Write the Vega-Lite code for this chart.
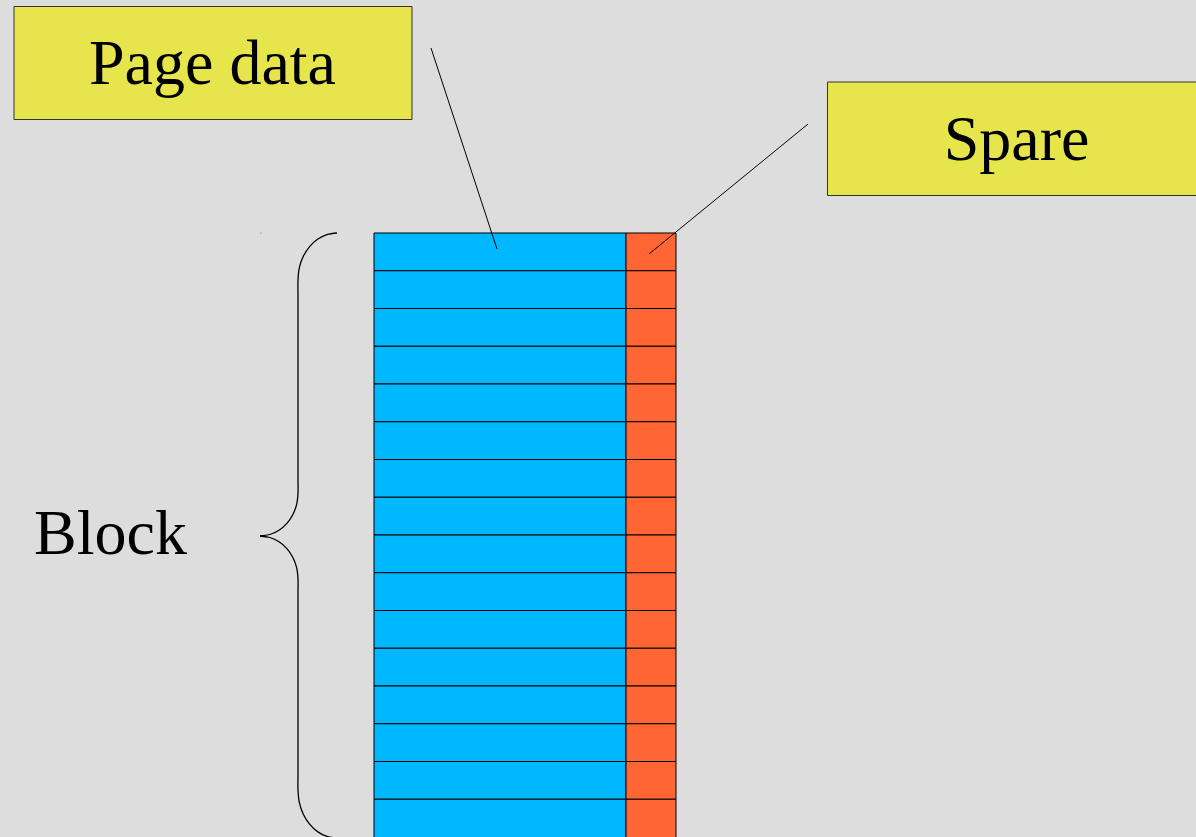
{
  "$schema": "https://vega.github.io/schema/vega-lite/v6.json",
  "width": 1196,
  "height": 837,
  "autosize": "none",
  "padding": 0,
  "background": "#dddddd",
  "config": {"view": {"stroke": null}},
  "datasets": {
    "cells": [
      {"page": 1, "part": "Page data", "x0": 374, "x1": 626, "y0": 233, "y1": 270.75},
      {"page": 1, "part": "Spare", "x0": 626, "x1": 676, "y0": 233, "y1": 270.75},
      {"page": 2, "part": "Page data", "x0": 374, "x1": 626, "y0": 270.75, "y1": 308.5},
      {"page": 2, "part": "Spare", "x0": 626, "x1": 676, "y0": 270.75, "y1": 308.5},
      {"page": 3, "part": "Page data", "x0": 374, "x1": 626, "y0": 308.5, "y1": 346.25},
      {"page": 3, "part": "Spare", "x0": 626, "x1": 676, "y0": 308.5, "y1": 346.25},
      {"page": 4, "part": "Page data", "x0": 374, "x1": 626, "y0": 346.25, "y1": 384},
      {"page": 4, "part": "Spare", "x0": 626, "x1": 676, "y0": 346.25, "y1": 384},
      {"page": 5, "part": "Page data", "x0": 374, "x1": 626, "y0": 384, "y1": 421.75},
      {"page": 5, "part": "Spare", "x0": 626, "x1": 676, "y0": 384, "y1": 421.75},
      {"page": 6, "part": "Page data", "x0": 374, "x1": 626, "y0": 421.75, "y1": 459.5},
      {"page": 6, "part": "Spare", "x0": 626, "x1": 676, "y0": 421.75, "y1": 459.5},
      {"page": 7, "part": "Page data", "x0": 374, "x1": 626, "y0": 459.5, "y1": 497.25},
      {"page": 7, "part": "Spare", "x0": 626, "x1": 676, "y0": 459.5, "y1": 497.25},
      {"page": 8, "part": "Page data", "x0": 374, "x1": 626, "y0": 497.25, "y1": 535},
      {"page": 8, "part": "Spare", "x0": 626, "x1": 676, "y0": 497.25, "y1": 535},
      {"page": 9, "part": "Page data", "x0": 374, "x1": 626, "y0": 535, "y1": 572.75},
      {"page": 9, "part": "Spare", "x0": 626, "x1": 676, "y0": 535, "y1": 572.75},
      {"page": 10, "part": "Page data", "x0": 374, "x1": 626, "y0": 572.75, "y1": 610.5},
      {"page": 10, "part": "Spare", "x0": 626, "x1": 676, "y0": 572.75, "y1": 610.5},
      {"page": 11, "part": "Page data", "x0": 374, "x1": 626, "y0": 610.5, "y1": 648.25},
      {"page": 11, "part": "Spare", "x0": 626, "x1": 676, "y0": 610.5, "y1": 648.25},
      {"page": 12, "part": "Page data", "x0": 374, "x1": 626, "y0": 648.25, "y1": 686},
      {"page": 12, "part": "Spare", "x0": 626, "x1": 676, "y0": 648.25, "y1": 686},
      {"page": 13, "part": "Page data", "x0": 374, "x1": 626, "y0": 686, "y1": 723.75},
      {"page": 13, "part": "Spare", "x0": 626, "x1": 676, "y0": 686, "y1": 723.75},
      {"page": 14, "part": "Page data", "x0": 374, "x1": 626, "y0": 723.75, "y1": 761.5},
      {"page": 14, "part": "Spare", "x0": 626, "x1": 676, "y0": 723.75, "y1": 761.5},
      {"page": 15, "part": "Page data", "x0": 374, "x1": 626, "y0": 761.5, "y1": 799.25},
      {"page": 15, "part": "Spare", "x0": 626, "x1": 676, "y0": 761.5, "y1": 799.25},
      {"page": 16, "part": "Page data", "x0": 374, "x1": 626, "y0": 799.25, "y1": 845},
      {"page": 16, "part": "Spare", "x0": 626, "x1": 676, "y0": 799.25, "y1": 845}
    ],
    "callouts": [
      {"label": "Page data", "x0": 14, "x1": 412, "y0": 6.5, "y1": 119.5, "tx": 212.5, "ty": 84, "lx0": 431, "ly0": 48, "lx1": 497, "ly1": 249},
      {"label": "Spare", "x0": 827.5, "x1": 1205, "y0": 82, "y1": 195.5, "tx": 1016.5, "ty": 160, "lx0": 808, "ly0": 124, "lx1": 649, "ly1": 254}
    ],
    "blocklabel": [
      {"label": "Block", "tx": 110.5, "ty": 554}
    ],
    "brace": [
      {"seg": "upper", "o": 0, "x": 337, "y": 233},
      {"seg": "upper", "o": 1, "x": 326.9, "y": 234.6},
      {"seg": "upper", "o": 2, "x": 317.5, "y": 239.3},
      {"seg": "upper", "o": 3, "x": 309.4, "y": 246.8},
      {"seg": "upper", "o": 4, "x": 303.2, "y": 256.5},
      {"seg": "upper", "o": 5, "x": 299.3, "y": 267.8},
      {"seg": "upper", "o": 6, "x": 298, "y": 280},
      {"seg": "upper", "o": 7, "x": 298, "y": 295},
      {"seg": "upper", "o": 8, "x": 298, "y": 478},
      {"seg": "upper", "o": 9, "x": 298, "y": 493},
      {"seg": "upper", "o": 10, "x": 296.7, "y": 504.1},
      {"seg": "upper", "o": 11, "x": 292.9, "y": 514.5},
      {"seg": "upper", "o": 12, "x": 286.9, "y": 523.4},
      {"seg": "upper", "o": 13, "x": 279, "y": 530.2},
      {"seg": "upper", "o": 14, "x": 269.8, "y": 534.5},
      {"seg": "upper", "o": 15, "x": 260, "y": 536},
      {"seg": "lower", "o": 0, "x": 260, "y": 536},
      {"seg": "lower", "o": 1, "x": 269.8, "y": 537.5},
      {"seg": "lower", "o": 2, "x": 279, "y": 541.8},
      {"seg": "lower", "o": 3, "x": 286.9, "y": 548.6},
      {"seg": "lower", "o": 4, "x": 292.9, "y": 557.5},
      {"seg": "lower", "o": 5, "x": 296.7, "y": 567.9},
      {"seg": "lower", "o": 6, "x": 298, "y": 579},
      {"seg": "lower", "o": 7, "x": 298, "y": 594},
      {"seg": "lower", "o": 8, "x": 298, "y": 775},
      {"seg": "lower", "o": 9, "x": 298, "y": 790},
      {"seg": "lower", "o": 10, "x": 299.3, "y": 802.4},
      {"seg": "lower", "o": 11, "x": 303.2, "y": 814},
      {"seg": "lower", "o": 12, "x": 309.4, "y": 823.9},
      {"seg": "lower", "o": 13, "x": 317.5, "y": 831.6},
      {"seg": "lower", "o": 14, "x": 326.9, "y": 836.4},
      {"seg": "lower", "o": 15, "x": 337, "y": 838}
    ],
    "speck": [
      {"x": 261, "y": 233}
    ]
  },
  "layer": [
    {
      "data": {"name": "cells"},
      "mark": {"type": "rect", "stroke": "#000000", "strokeWidth": 1, "clip": true},
      "encoding": {
        "x": {"field": "x0", "type": "quantitative", "scale": {"domain": [0, 1196], "nice": false, "zero": false}, "axis": null},
        "x2": {"field": "x1"},
        "y": {"field": "y0", "type": "quantitative", "scale": {"domain": [0, 837], "nice": false, "zero": false, "reverse": true}, "axis": null},
        "y2": {"field": "y1"},
        "fill": {"field": "part", "type": "nominal", "scale": {"domain": ["Page data", "Spare"], "range": ["#00b8ff", "#ff6633"]}, "legend": null}
      }
    },
    {
      "data": {"name": "callouts"},
      "mark": {"type": "rect", "fill": "#e6e64c", "stroke": "#333333", "strokeWidth": 1, "clip": true},
      "encoding": {
        "x": {"field": "x0", "type": "quantitative"},
        "x2": {"field": "x1"},
        "y": {"field": "y0", "type": "quantitative"},
        "y2": {"field": "y1"}
      }
    },
    {
      "data": {"name": "callouts"},
      "mark": {"type": "rule", "color": "#000000", "strokeWidth": 1},
      "encoding": {
        "x": {"field": "lx0", "type": "quantitative"},
        "y": {"field": "ly0", "type": "quantitative"},
        "x2": {"field": "lx1"},
        "y2": {"field": "ly1"}
      }
    },
    {
      "data": {"name": "callouts"},
      "mark": {"type": "text", "font": "Liberation Serif", "fontSize": 64, "color": "#000000", "align": "center", "baseline": "alphabetic"},
      "encoding": {
        "x": {"field": "tx", "type": "quantitative"},
        "y": {"field": "ty", "type": "quantitative"},
        "text": {"field": "label"}
      }
    },
    {
      "data": {"name": "blocklabel"},
      "mark": {"type": "text", "font": "Liberation Serif", "fontSize": 64, "color": "#000000", "align": "center", "baseline": "alphabetic"},
      "encoding": {
        "x": {"field": "tx", "type": "quantitative"},
        "y": {"field": "ty", "type": "quantitative"},
        "text": {"field": "label"}
      }
    },
    {
      "data": {"name": "brace"},
      "mark": {"type": "line", "color": "#000000", "strokeWidth": 1.3, "interpolate": "catmull-rom", "clip": true},
      "encoding": {
        "x": {"field": "x", "type": "quantitative"},
        "y": {"field": "y", "type": "quantitative"},
        "detail": {"field": "seg", "type": "nominal"},
        "order": {"field": "o", "type": "quantitative"}
      }
    },
    {
      "data": {"name": "speck"},
      "mark": {"type": "point", "filled": true, "size": 1, "color": "#333333", "opacity": 1},
      "encoding": {
        "x": {"field": "x", "type": "quantitative"},
        "y": {"field": "y", "type": "quantitative"}
      }
    }
  ]
}
